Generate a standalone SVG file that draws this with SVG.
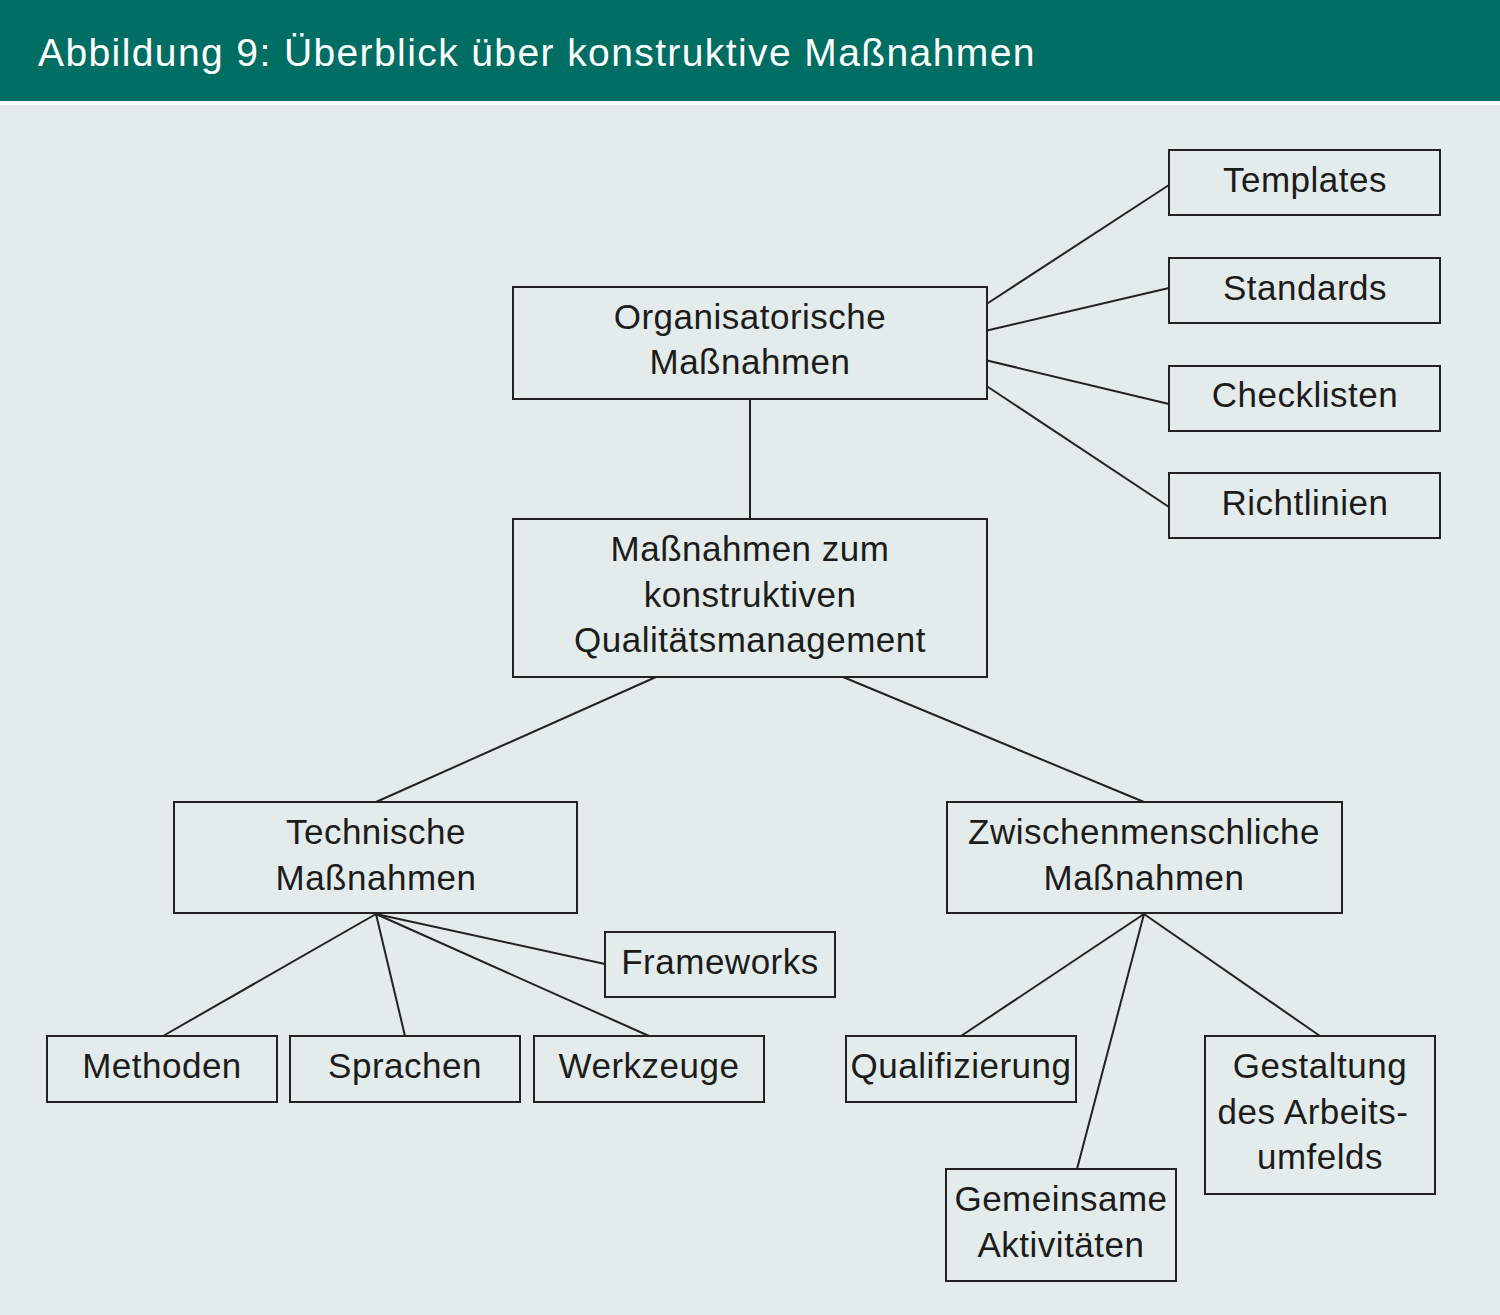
<svg xmlns="http://www.w3.org/2000/svg" width="1500" height="1315" viewBox="0 0 1500 1315">
<style>
.bg{fill:#e3ecea}
.box{fill:#e3ecea;stroke:#222;stroke-width:2}
.t{font-family:"Liberation Sans",Arial,sans-serif;font-size:35px;fill:#1c1c1c;text-anchor:middle;letter-spacing:0.5px}
.title{font-family:"Liberation Sans",Arial,sans-serif;font-size:39px;fill:#ffffff;letter-spacing:1.4px}
#connectors line{stroke:#222;stroke-width:2}
</style>
<rect x="0" y="0" width="1500" height="1315" class="bg"/>
<rect x="0" y="0" width="1500" height="101" fill="#006e63"/>
<rect x="0" y="101" width="1500" height="4" fill="#ffffff"/>
<text class="title" x="38" y="66">Abbildung 9: Überblick über konstruktive Maßnahmen</text>
<g id="connectors">
<line x1="985" y1="305" x2="1169" y2="185"/>
<line x1="985" y1="331" x2="1169" y2="288"/>
<line x1="985" y1="360" x2="1169" y2="404"/>
<line x1="985" y1="385" x2="1169" y2="507"/>
<line x1="750" y1="399" x2="750" y2="519"/>
<line x1="656" y1="677" x2="376" y2="802"/>
<line x1="843" y1="677" x2="1144" y2="802"/>
<line x1="376" y1="914" x2="163" y2="1036"/>
<line x1="376" y1="914" x2="405" y2="1036"/>
<line x1="376" y1="914" x2="649" y2="1036"/>
<line x1="376" y1="914" x2="605" y2="964"/>
<line x1="1144" y1="914" x2="961" y2="1036"/>
<line x1="1144" y1="914" x2="1077" y2="1169"/>
<line x1="1144" y1="914" x2="1320" y2="1036"/>
</g>
<g id="org"><rect class="box" x="513" y="287" width="474" height="112"/><text class="t" x="750" y="329">Organisatorische</text><text class="t" x="750" y="374">Maßnahmen</text></g>
<g id="templates"><rect class="box" x="1169" y="150" width="271" height="65"/><text class="t" x="1305" y="192">Templates</text></g>
<g id="standards"><rect class="box" x="1169" y="258" width="271" height="65"/><text class="t" x="1305" y="300">Standards</text></g>
<g id="checklisten"><rect class="box" x="1169" y="366" width="271" height="65"/><text class="t" x="1305" y="407">Checklisten</text></g>
<g id="richtlinien"><rect class="box" x="1169" y="473" width="271" height="65"/><text class="t" x="1305" y="515">Richtlinien</text></g>
<g id="main"><rect class="box" x="513" y="519" width="474" height="158"/><text class="t" x="750" y="561">Maßnahmen zum</text><text class="t" x="750" y="607">konstruktiven</text><text class="t" x="750" y="652">Qualitätsmanagement</text></g>
<g id="technische"><rect class="box" x="174" y="802" width="403" height="111"/><text class="t" x="376" y="844">Technische</text><text class="t" x="376" y="890">Maßnahmen</text></g>
<g id="zwischen"><rect class="box" x="947" y="802" width="395" height="111"/><text class="t" x="1144" y="844">Zwischenmenschliche</text><text class="t" x="1144" y="890">Maßnahmen</text></g>
<g id="frameworks"><rect class="box" x="605" y="932" width="230" height="65"/><text class="t" x="720" y="974">Frameworks</text></g>
<g id="methoden"><rect class="box" x="47" y="1036" width="230" height="66"/><text class="t" x="162" y="1078">Methoden</text></g>
<g id="sprachen"><rect class="box" x="290" y="1036" width="230" height="66"/><text class="t" x="405" y="1078">Sprachen</text></g>
<g id="werkzeuge"><rect class="box" x="534" y="1036" width="230" height="66"/><text class="t" x="649" y="1078">Werkzeuge</text></g>
<g id="qualifizierung"><rect class="box" x="846" y="1036" width="230" height="66"/><text class="t" x="961" y="1078">Qualifizierung</text></g>
<g id="gestaltung"><rect class="box" x="1205" y="1036" width="230" height="158"/><text class="t" x="1320" y="1078">Gestaltung</text><text class="t" x="1313" y="1124">des Arbeits-</text><text class="t" x="1320" y="1169">umfelds</text></g>
<g id="gemeinsame"><rect class="box" x="946" y="1169" width="230" height="112"/><text class="t" x="1061" y="1211">Gemeinsame</text><text class="t" x="1061" y="1257">Aktivitäten</text></g>
</svg>
